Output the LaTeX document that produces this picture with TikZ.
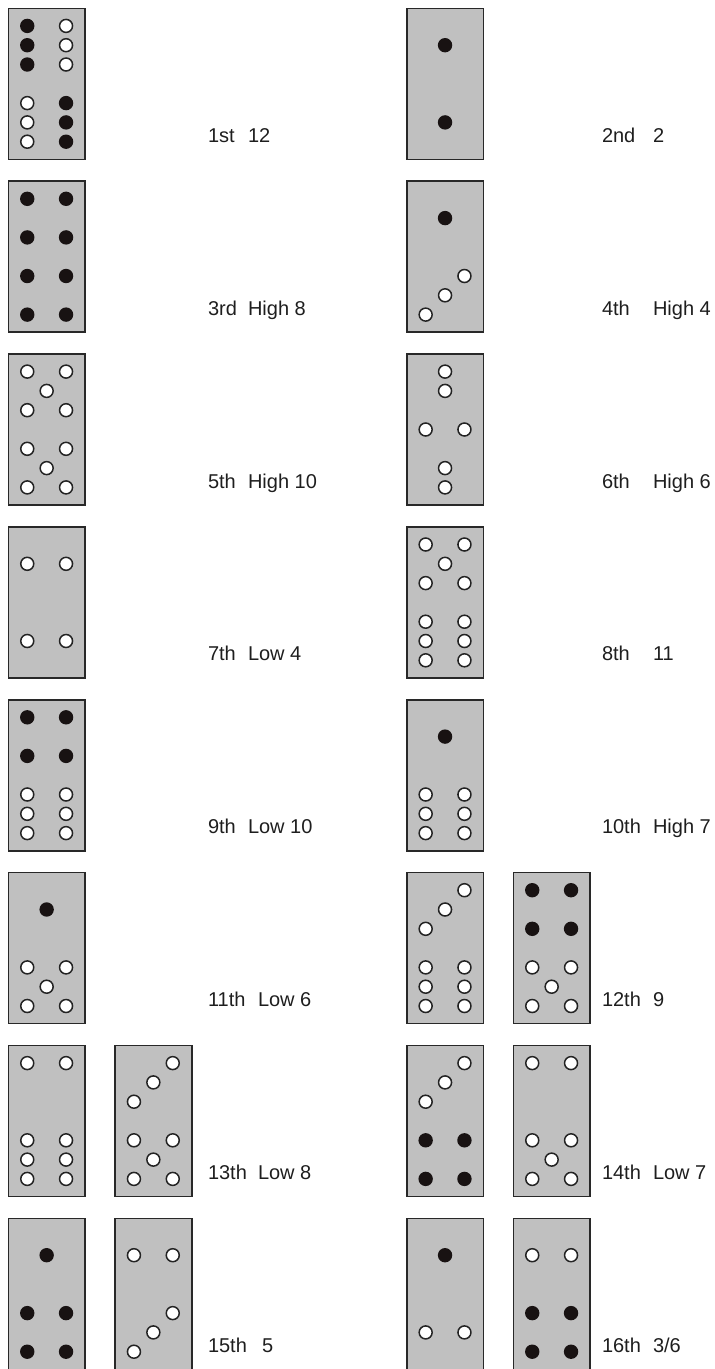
\documentclass[tikz,border=0pt]{standalone}
\usepackage{fontspec}
\setmainfont{Liberation Sans}
\definecolor{tilegray}{RGB}{192,192,192}
\definecolor{tileedge}{RGB}{40,40,40}
\definecolor{dotblack}{RGB}{24,18,18}
\definecolor{dotedge}{RGB}{35,35,35}
\definecolor{textc}{RGB}{30,30,30}
\tikzset{
  tilebox/.style={draw=tileedge, fill=tilegray, line width=1.6pt, minimum width=76.7pt,
    minimum height=151pt, inner sep=0pt, outer sep=0pt, anchor=north west},
  bdot/.style={fill=dotblack},
  wdot/.style={fill=white, draw=dotedge, line width=1.5pt},
  lbl/.style={anchor=base west, inner sep=0pt, outer sep=0pt, text=textc,
    font=\fontsize{20}{24}\selectfont},
}
\newcommand\blackdots[2]{\foreach \a/\b in {#2} \fill[bdot, shift={(#1.center)}] (\a*19.4,\b*19.3) circle (7.2);}
\newcommand\whitedots[2]{\foreach \a/\b in {#2} \filldraw[wdot, shift={(#1.center)}] (\a*19.4,\b*19.3) circle (6.5);}
\begin{document}
\begin{tikzpicture}[x=1pt, y=-1pt]
\useasboundingbox (0,0) rectangle (715,1369);
% row tops: 8.3 + k*172.86
% Row 0
\node[tilebox] (t1) at (8.3,8.3) {};
\blackdots{t1}{-1/-3,-1/-2,-1/-1,1/1,1/2,1/3}
\whitedots{t1}{1/-3,1/-2,1/-1,-1/1,-1/2,-1/3}
\node[tilebox] (t2) at (406.7,8.3) {};
\blackdots{t2}{0/-2,0/2}
\node[lbl] (l1) at (208,142.3) {1st};
\node[lbl] (v1) at (248,142.3) {12};
\node[lbl] (l2) at (602,142.3) {2nd};
\node[lbl] (v2) at (653,142.3) {2};
% Row 1
\node[tilebox] (t3) at (8.3,181.2) {};
\blackdots{t3}{-1/-3,1/-3,-1/-1,1/-1,-1/1,1/1,-1/3,1/3}
\node[tilebox] (t4) at (406.7,181.2) {};
\blackdots{t4}{0/-2}
\whitedots{t4}{1/1,0/2,-1/3}
\node[lbl] (l3) at (208,315.2) {3rd};
\node[lbl] (v3) at (248,315.2) {High 8};
\node[lbl] (l4) at (602,315.2) {4th};
\node[lbl] (v4) at (653,315.2) {High 4};
% Row 2
\node[tilebox] (t5) at (8.3,354.0) {};
\whitedots{t5}{-1/-3,1/-3,0/-2,-1/-1,1/-1,-1/1,1/1,0/2,-1/3,1/3}
\node[tilebox] (t6) at (406.7,354.0) {};
\whitedots{t6}{0/-3,0/-2,-1/0,1/0,0/2,0/3}
\node[lbl] (l5) at (208,488.0) {5th};
\node[lbl] (v5) at (248,488.0) {High 10};
\node[lbl] (l6) at (602,488.0) {6th};
\node[lbl] (v6) at (653,488.0) {High 6};
% Row 3
\node[tilebox] (t7) at (8.3,526.9) {};
\whitedots{t7}{-1/-2,1/-2,-1/2,1/2}
\node[tilebox] (t8) at (406.7,526.9) {};
\whitedots{t8}{-1/-3,1/-3,0/-2,-1/-1,1/-1,-1/1,1/1,-1/2,1/2,-1/3,1/3}
\node[lbl] (l7) at (208,660.9) {7th};
\node[lbl] (v7) at (248,660.9) {Low 4};
\node[lbl] (l8) at (602,660.9) {8th};
\node[lbl] (v8) at (653,660.9) {11};
% Row 4
\node[tilebox] (t9) at (8.3,699.7) {};
\blackdots{t9}{-1/-3,1/-3,-1/-1,1/-1}
\whitedots{t9}{-1/1,1/1,-1/2,1/2,-1/3,1/3}
\node[tilebox] (t10) at (406.7,699.7) {};
\blackdots{t10}{0/-2}
\whitedots{t10}{-1/1,1/1,-1/2,1/2,-1/3,1/3}
\node[lbl] (l9) at (208,833.7) {9th};
\node[lbl] (v9) at (248,833.7) {Low 10};
\node[lbl] (l10) at (602,833.7) {10th};
\node[lbl] (v10) at (653,833.7) {High 7};
% Row 5
\node[tilebox] (t11) at (8.3,872.6) {};
\blackdots{t11}{0/-2}
\whitedots{t11}{-1/1,1/1,0/2,-1/3,1/3}
\node[tilebox] (t12a) at (406.7,872.6) {};
\whitedots{t12a}{1/-3,0/-2,-1/-1,-1/1,1/1,-1/2,1/2,-1/3,1/3}
\node[tilebox] (t12b) at (513.3,872.6) {};
\blackdots{t12b}{-1/-3,1/-3,-1/-1,1/-1}
\whitedots{t12b}{-1/1,1/1,0/2,-1/3,1/3}
\node[lbl] (l11) at (208,1006.6) {11th};
\node[lbl] (v11) at (258,1006.6) {Low 6};
\node[lbl] (l12) at (602,1006.6) {12th};
\node[lbl] (v12) at (653,1006.6) {9};
% Row 6
\node[tilebox] (t13a) at (8.3,1045.5) {};
\whitedots{t13a}{-1/-3,1/-3,-1/1,1/1,-1/2,1/2,-1/3,1/3}
\node[tilebox] (t13b) at (115,1045.5) {};
\whitedots{t13b}{1/-3,0/-2,-1/-1,-1/1,1/1,0/2,-1/3,1/3}
\node[tilebox] (t14a) at (406.7,1045.5) {};
\whitedots{t14a}{1/-3,0/-2,-1/-1}
\blackdots{t14a}{-1/1,1/1,-1/3,1/3}
\node[tilebox] (t14b) at (513.3,1045.5) {};
\whitedots{t14b}{-1/-3,1/-3,-1/1,1/1,0/2,-1/3,1/3}
\node[lbl] (l13) at (208,1179.5) {13th};
\node[lbl] (v13) at (258,1179.5) {Low 8};
\node[lbl] (l14) at (602,1179.5) {14th};
\node[lbl] (v14) at (653,1179.5) {Low 7};
% Row 7
\node[tilebox] (t15a) at (8.3,1218.3) {};
\blackdots{t15a}{0/-2,-1/1,1/1,-1/3,1/3}
\node[tilebox] (t15b) at (115,1218.3) {};
\whitedots{t15b}{-1/-2,1/-2,1/1,0/2,-1/3}
\node[tilebox] (t16a) at (406.7,1218.3) {};
\blackdots{t16a}{0/-2}
\whitedots{t16a}{-1/2,1/2}
\node[tilebox] (t16b) at (513.3,1218.3) {};
\whitedots{t16b}{-1/-2,1/-2}
\blackdots{t16b}{-1/1,1/1,-1/3,1/3}
\node[lbl] (l15) at (208,1352.3) {15th};
\node[lbl] (v15) at (262,1352.3) {5};
\node[lbl] (l16) at (602,1352.3) {16th};
\node[lbl] (v16) at (653,1352.3) {3/6};
\end{tikzpicture}
\end{document}
